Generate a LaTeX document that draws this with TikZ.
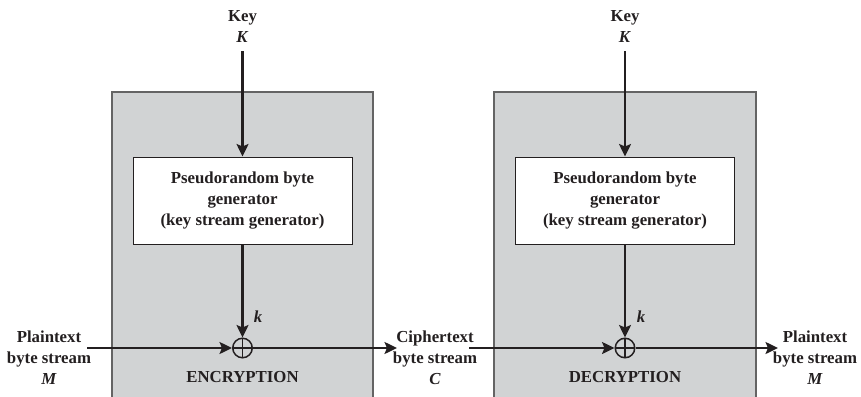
\documentclass[tikz,border=0pt]{standalone}
\usepackage{fontspec}
\setmainfont{Liberation Serif}
\usetikzlibrary{arrows.meta}
\definecolor{panelgray}{RGB}{209,211,212}
\definecolor{paneledge}{RGB}{100,100,100}
\definecolor{ink}{RGB}{35,31,32}
\begin{document}
\begin{tikzpicture}[x=1pt,y=-1pt,
  txt/.style={font=\fontsize{16.8}{21}\selectfont\bfseries, align=center, inner sep=0pt, text=ink},
  panel/.style={fill=panelgray, draw=paneledge, line width=1.2pt},
  genbox/.style={txt, draw=ink, fill=white, line width=1pt, minimum width=219pt, minimum height=87pt},
  flow/.style={draw=ink, line width=2.1pt, -{Stealth[length=12.5pt,width=12pt,inset=2.5pt]}},
  xor/.style={circle, draw=ink, line width=1.5pt, minimum size=19.5pt, inner sep=0pt,
    path picture={\draw[ink, line width=1.5pt] (path picture bounding box.north) -- (path picture bounding box.south)
      (path picture bounding box.west) -- (path picture bounding box.east);}}
]
\useasboundingbox (0,0) rectangle (861,396);

% panels
\draw[panel] (112,92) rectangle (373,402);
\draw[panel] (494,92) rectangle (756,402);

% encryption side
\node[txt] (key1) at (242.5,27) {Key\\\textit{K}};
\node[genbox] (gen1) at (242.5,200.5) {Pseudorandom byte\\generator\\(key stream generator)};
\node[xor] (x1) at (242.5,348) {};
\node[txt] (k1) at (258,317) {\textit{k}};
\node[txt] (enc) at (242.5,377) {ENCRYPTION};
\node[txt] (pt1) at (49,358) {Plaintext\\byte stream\\\textit{M}};
\coordinate (pin) at (87,348);

% middle
\node[txt] (ct) at (435,358) {Ciphertext\\byte stream\\\textit{C}};
\coordinate (cin) at (397,348);
\coordinate (cout) at (469,348);

% decryption side
\node[txt] (key2) at (625,27) {Key\\\textit{K}};
\node[genbox] (gen2) at (625,200.5) {Pseudorandom byte\\generator\\(key stream generator)};
\node[xor] (x2) at (625,348) {};
\node[txt] (k2) at (641,317) {\textit{k}};
\node[txt] (dec) at (625,377) {DECRYPTION};
\node[txt] (pt2) at (815,358) {Plaintext\\byte stream\\\textit{M}};
\coordinate (pout) at (778,348);

% connectors
\draw[flow, shorten <=8pt] (key1.south) -- (gen1.north);
\draw[flow] (gen1.south) -- (x1.north);
\draw[flow] (pin) -- (x1.west);
\draw[flow] (x1.east) -- (cin);
\draw[flow] (cout) -- (x2.west);
\draw[flow, shorten <=8pt] (key2.south) -- (gen2.north);
\draw[flow] (gen2.south) -- (x2.north);
\draw[flow] (x2.east) -- (pout);
\end{tikzpicture}
\end{document}
